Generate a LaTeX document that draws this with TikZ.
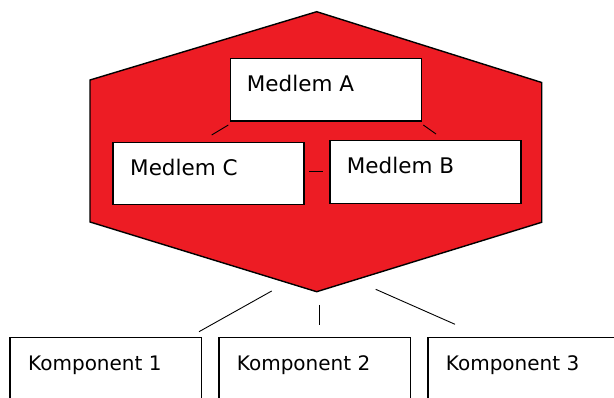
\documentclass[tikz,border=0pt]{standalone}
\usepackage{fontspec}
\setmainfont{DejaVu Sans}
\usepackage{tikz}
\usetikzlibrary{calc}
\definecolor{paintred}{RGB}{237,28,36}

\begin{document}
\begin{tikzpicture}[x=1pt, y=-1pt,
  member/.style={rectangle, draw=black, fill=white, line width=1.2pt, anchor=north west,
                 inner sep=0pt, minimum width=191pt, minimum height=62.5pt},
  part/.style={rectangle, draw=black, fill=white, line width=1.2pt, anchor=north west,
               inner sep=0pt, minimum width=191.5pt, minimum height=80pt},
  mtext/.style={anchor=base west, inner sep=0pt, font=\fontsize{21.5}{24}\selectfont},
  ktext/.style={anchor=base west, inner sep=0pt, font=\fontsize{20}{24}\selectfont},
  link/.style={line width=0.9pt}]

\useasboundingbox (0,0) rectangle (614,398);
\clip (0,0) rectangle (614,398);

\draw[fill=paintred, line width=1.4pt, line join=miter]
  (316.7,11.7) -- (541.7,82.5) -- (541.7,222.3) -- (316.7,291.7) -- (90,222) -- (90,80) -- cycle;

\node[member] (mA) at (230,58) {};
\node[member] (mC) at (112.3,141.7) {};
\node[member] (mB) at (329.3,140.3) {};
\node[mtext] (tA) at (246.7,91.5) {Medlem A};
\node[mtext] (tC) at (130,176) {Medlem C};
\node[mtext] (tB) at (346.7,174) {Medlem B};

\coordinate (ac1) at (228.3,125); \coordinate (ac2) at (211.7,135);
\coordinate (ab1) at (423.3,125); \coordinate (ab2) at (436,134);
\coordinate (cb1) at (309.3,171.7); \coordinate (cb2) at (323.3,171.7);
\draw[link] (ac1) -- (ac2); \draw[link] (ab1) -- (ab2); \draw[link] (cb1) -- (cb2);

\node[part] (k1) at (9.3,337.3) {};
\node[part] (k2) at (218.3,337.3) {};
\node[part] (k3) at (427.3,337.3) {};
\node[ktext] (t1) at (28,370.7) {Komponent 1};
\node[ktext] (t2) at (236.7,370.7) {Komponent 2};
\node[ktext] (t3) at (445.7,370.7) {Komponent 3};

\coordinate (h1) at (271.7,291); \coordinate (e1) at (199,331.7);
\coordinate (h2) at (319.3,305); \coordinate (e2) at (319.3,325);
\coordinate (h3) at (375.7,289.3); \coordinate (e3) at (455,324.3);
\draw[link] (h1) -- (e1); \draw[link] (h2) -- (e2); \draw[link] (h3) -- (e3);

\end{tikzpicture}
\end{document}
